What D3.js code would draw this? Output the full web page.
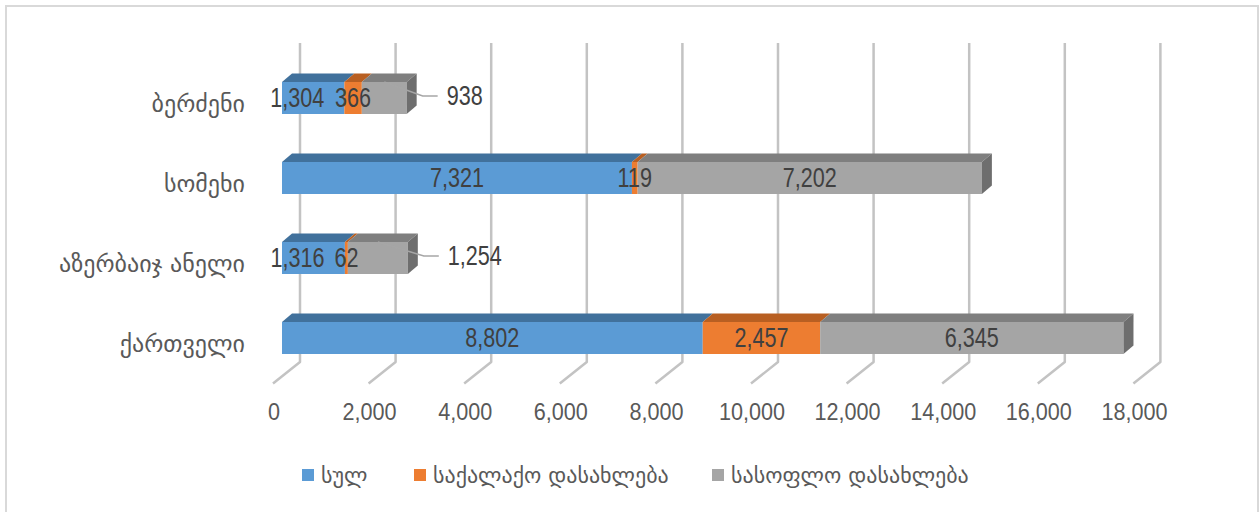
<!DOCTYPE html>
<html><head><meta charset="utf-8">
<script src="https://cdn.jsdelivr.net/npm/d3@7"></script>
<style>
html,body{margin:0;padding:0;background:#fff;}
svg{display:block;}
.num{font-family:"Liberation Sans",Arial,sans-serif;}
.geo{font-family:"DejaVu Sans",sans-serif;}
</style></head>
<body>
<script>
// ---- data ----
const categories = ["ბერძენი", "სომეხი", "აზერბაიჯ ანელი", "ქართველი"];
const seriesNames = ["სულ", "საქალაქო დასახლება", "სასოფლო დასახლება"];
const totalValues = [1304, 7321, 1316, 8802];
const urbanValues = [366, 119, 62, 2457];
const ruralValues = [938, 7202, 1254, 6345];
const xTicks = [0, 2000, 4000, 6000, 8000, 10000, 12000, 14000, 16000, 18000];

const W = 1260, H = 512;
const colors = ["#5B9BD5", "#ED7D31", "#A5A5A5"];
const topColors = ["#41719C", "#B85F22", "#7F7F7F"];
const sideColors = ["#3A6590", "#A9561F", "#6E6E6E"];

const svg = d3.select("body").append("svg").attr("width", W).attr("height", H);
svg.append("rect").attr("x", 6).attr("y", 6).attr("width", 1252).attr("height", 520)
  .attr("fill", "#fff").attr("stroke", "#d9d9d9").attr("stroke-width", 2);

const x = d3.scaleLinear().domain([0, 18000]).range([282, 282 + 860.4]);
const y = d3.scaleBand().domain(categories).range([58, 378]).paddingInner(0.6).paddingOuter(0.3);
const DX = 10, DY = -8.5;          // bar depth
const FX = -9;                     // floor front offset from bar front plane
const BX = 18;                     // back wall offset from bar front plane
const gridTop = 43, gridBottom = 362;

function numText(g, tx, ty, anchor, size, sx, str, fill) {
  g.append("g").attr("transform", `translate(${tx},${ty}) scale(${sx},1)`)
    .append("text").attr("class", "num")
    .attr("text-anchor", anchor).attr("dominant-baseline", "central")
    .attr("font-size", size).attr("fill", fill).text(str);
}

// gridlines (back wall + floor)
svg.append("g").selectAll("path").data(xTicks).join("path")
  .attr("d", t => `M${x(t) + BX},${gridTop} L${x(t) + BX},${gridBottom} L${x(t) + FX},${gridBottom + 21.5}`)
  .attr("fill", "none").attr("stroke", "#c3c3c3").attr("stroke-width", 2.5)
  .attr("stroke-linejoin", "round");

// axis tick labels
const fmt = d3.format(",");
const axisG = svg.append("g");
xTicks.forEach(t => numText(axisG, x(t) + FX + 1, 412, "middle", 24, 0.9, fmt(t), "#595959"));

// category labels
svg.append("g").selectAll("text").data(categories).join("text")
  .attr("class", "geo")
  .attr("x", 245).attr("y", c => y(c) + y.bandwidth() / 2 + 6)
  .attr("text-anchor", "end").attr("dominant-baseline", "central")
  .attr("font-size", 24).attr("fill", "#595959")
  .text(c => c);

// stacked segments
const rows = categories.map((c, i) => {
  const vals = [totalValues[i], urbanValues[i], ruralValues[i]];
  let acc = 0;
  const segs = vals.map((v, s) => { const a = acc; acc += v; return {cat: c, s, v, x0: a, x1: acc}; });
  return {cat: c, segs, total: acc};
});

const bars = svg.append("g");
rows.forEach(r => {
  const top = y(r.cat), h = y.bandwidth();
  r.segs.forEach(sg => {
    const a = x(sg.x0), b = x(sg.x1);
    bars.append("path")
      .attr("d", `M${a},${top} L${a + DX},${top + DY} L${b + DX},${top + DY} L${b},${top} Z`)
      .attr("fill", topColors[sg.s]);
    bars.append("rect").attr("x", a).attr("y", top).attr("width", b - a).attr("height", h)
      .attr("fill", colors[sg.s]);
  });
  const last = r.segs[r.segs.length - 1];
  const e = x(r.total);
  bars.append("path")
    .attr("d", `M${e},${top} L${e + DX},${top + DY} L${e + DX},${top + h + DY} L${e},${top + h} Z`)
    .attr("fill", sideColors[last.s]);
});

// data labels
const labels = svg.append("g");
rows.forEach(r => {
  const top = y(r.cat), h = y.bandwidth(), cy = top + h / 2;
  r.segs.forEach(sg => {
    const a = x(sg.x0), b = x(sg.x1), w = b - a;
    if (sg.s === 2 && w < 70) {
      const lx = x(r.total) + 40;
      const ly = cy - 2;
      labels.append("path")
        .attr("d", `M${lx - 9},${ly} L${lx - 24},${ly} L${(a + b) / 2},${top}`)
        .attr("fill", "none").attr("stroke", "#a6a6a6").attr("stroke-width", 1.5);
      numText(labels, lx, ly, "start", 27, 0.8, fmt(sg.v), "#404040");
    } else {
      let cx = (a + b) / 2;
      if (sg.s === 0 && w < 70) cx -= 16;
      numText(labels, cx, cy, "middle", 27, 0.8, fmt(sg.v), "#404040");
    }
  });
});

// legend
const legendX = [302, 414, 712];
const lg = svg.append("g");
seriesNames.forEach((n, i) => {
  lg.append("rect").attr("x", legendX[i]).attr("y", 469).attr("width", 12).attr("height", 12).attr("fill", colors[i]);
  lg.append("text").attr("class", "geo").attr("x", legendX[i] + 19).attr("y", 475)
    .attr("dominant-baseline", "central").attr("font-size", 22).attr("fill", "#595959").text(n);
});
</script>
</body></html>
